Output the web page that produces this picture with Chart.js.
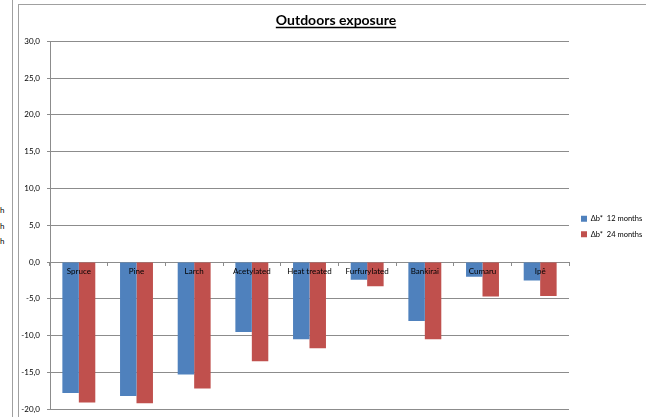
<!DOCTYPE html>
<html>
<head>
<meta charset="utf-8">
<script src="https://cdn.jsdelivr.net/npm/chart.js@4/dist/chart.umd.min.js"></script>
<style>
  html, body { margin: 0; padding: 0; background: #fff; width: 646px; height: 417px; overflow: hidden; }
  .sideLine { position: absolute; left: 12px; top: 0; width: 1px; height: 417px; background: #a0a0a0; }
  .frame { position: absolute; left: 18px; top: 4px; width: 628px; height: 413px;
           border-left: 1px solid #a0a0a0; border-top: 1px solid #a0a0a0; box-sizing: border-box; }
  .cut { position: absolute; left: 0; font: 8px Lato, sans-serif; color: #000; line-height: 10px; }
  #wrap { position: absolute; left: 18px; top: 4px; width: 628px; height: 417px; }
</style>
</head>
<body>
<div class="sideLine"></div>
<span class="cut" style="top:205px">h</span>
<span class="cut" style="top:221px">h</span>
<span class="cut" style="top:236px">h</span>
<div class="frame"></div>
<div id="wrap"><canvas id="c" width="628" height="417"></canvas></div>
<script>
const categories = ['Spruce', 'Pine', 'Larch', 'Acetylated', 'Heat treated', 'Furfurylated', 'Bankirai', 'Cumaru', 'Ipê'];
const seriesNames = ['\u0394b*  12 months', '\u0394b*  24 months'];
const months12 = [-17.8, -18.2, -15.3, -9.5, -10.5, -2.4, -8.0, -2.0, -2.5];
const months24 = [-19.1, -19.2, -17.2, -13.5, -11.7, -3.3, -10.5, -4.7, -4.6];
const yMin = -20, yMax = 30, yStep = 5;

const FONT = 'Lato, "Open Sans", sans-serif';
const GRID = '#8c8c8c';

// underline under the chart title
const titleUnderline = {
  id: 'titleUnderline',
  afterDraw(chart) {
    const t = chart.titleBlock;
    if (!t) return;
    const o = chart.options.plugins.title;
    const ctx = chart.ctx;
    ctx.save();
    ctx.font = 'bold ' + o.font.size + 'px ' + FONT;
    const w = ctx.measureText(o.text).width;
    const cx = (t.left + t.right) / 2;
    const y = t.top + o.padding.top + o.font.size * 1.2 / 2 + 7;
    ctx.strokeStyle = '#000';
    ctx.lineWidth = 1.5;
    ctx.beginPath();
    ctx.moveTo(cx - w / 2, y);
    ctx.lineTo(cx + w / 2, y);
    ctx.stroke();
    ctx.restore();
  }
};

// moves the title and legend boxes without changing the plot area
const boxShift = {
  id: 'boxShift',
  afterLayout(chart, args, opts) {
    const t = chart.titleBlock;
    if (t) { t.left += opts.titleDx; t.right += opts.titleDx; }
    const l = chart.legend;
    if (l) {
      l.left += opts.legendDx;
      l.right += opts.legendDx;
      l.top += opts.legendDy;
      l.bottom += opts.legendDy;
    }
  }
};

new Chart(document.getElementById('c'), {
  type: 'bar',
  data: {
    labels: categories,
    datasets: [
      { label: seriesNames[0], data: months12, backgroundColor: '#4F81BD' },
      { label: seriesNames[1], data: months24, backgroundColor: '#C0504D' }
    ]
  },
  plugins: [titleUnderline, boxShift],
  options: {
    responsive: false,
    animation: false,
    devicePixelRatio: 1,
    layout: { padding: { left: 0, right: 0, top: 0, bottom: 0 } },
    datasets: { bar: { barPercentage: 1, categoryPercentage: 0.571 } },
    plugins: {
      title: {
        display: true,
        text: 'Outdoors exposure',
        color: '#000',
        font: { family: FONT, size: 14, weight: 'bold' },
        padding: { top: 8, bottom: 12.5 }
      },
      legend: {
        display: true,
        position: 'right',
        maxWidth: 77,
        labels: {
          boxWidth: 6, boxHeight: 6, padding: 8,
          color: '#000',
          font: { family: FONT, size: 7.5 }
        }
      },
      boxShift: { titleDx: 4, legendDx: 4, legendDy: 14 },
      tooltip: { enabled: false }
    },
    scales: {
      x: {
        type: 'category',
        position: { y: 0 },
        grid: { display: true, drawOnChartArea: false, drawTicks: true, tickLength: 3, color: GRID, offset: true },
        border: { display: true, color: GRID },
        ticks: { z: 1, color: '#000', font: { family: FONT, size: 8 }, padding: 2, maxRotation: 0, autoSkip: false }
      },
      y: {
        min: yMin, max: yMax,
        afterFit(scale) { scale.width = 32; },
        grid: { color: GRID, tickLength: 3, drawTicks: true },
        border: { display: true, color: GRID },
        ticks: {
          stepSize: yStep,
          padding: 7,
          color: '#000',
          font: { family: FONT, size: 8 },
          callback: v => v.toFixed(1).replace('.', ',')
        }
      }
    }
  }
});
</script>
</body>
</html>
